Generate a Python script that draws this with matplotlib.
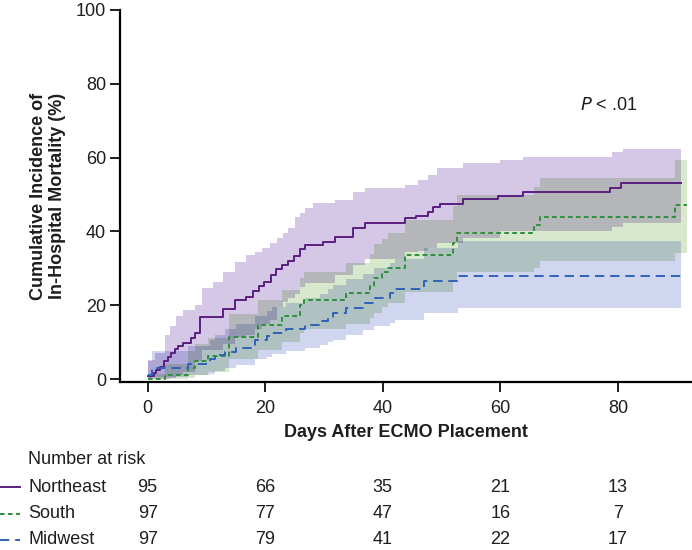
import numpy as np
import matplotlib
matplotlib.use("Agg")
import matplotlib.pyplot as plt
from matplotlib.transforms import blended_transform_factory

plt.rcParams["font.family"] = ["Liberation Sans", "DejaVu Sans"]

# Northeast: cumulative incidence steps (days, %) and confidence band
ne_t = [0, 1.0, 1.5, 2.1, 2.8, 3.5, 4.0, 4.7, 5.1, 6.0, 7.4, 8.0, 8.9, 12.9, 14.8, 16.8, 17.9, 18.9, 19.8, 21.0,
        21.9, 22.8, 23.9, 24.9, 25.9, 26.8, 29.9, 31.9, 35.0, 37.0, 43.8, 45.7, 47.7, 48.6, 49.7, 53.7, 59.6, 63.8, 78.6, 80.6]
ne_y = [0.7, 1.6, 2.4, 3.4, 4.8, 5.9, 7.1, 8.1, 8.9, 9.8, 11.0, 12.5, 16.8, 18.9, 21.3, 22.2, 23.8, 25.3, 26.4, 28.2,
        29.8, 30.8, 32.0, 33.4, 35.2, 36.3, 37.2, 38.4, 41.0, 42.2, 43.6, 44.2, 45.4, 46.6, 47.5, 48.7, 49.6, 50.6, 51.9, 53.0]
ne_bt = [0, 1.2, 2.9, 3.8, 4.9, 6.1, 8.0, 9.2, 11.2, 12.9, 14.8, 16.8, 18.2, 19.4, 20.8, 22.0, 23.1, 23.9, 25.1, 25.9,
         26.8, 28.2, 31.9, 35.0, 37.0, 43.8, 46.0, 47.7, 49.2, 53.7, 59.9, 63.9, 79.0, 80.9]
ne_hi = [5.2, 7.0, 11.9, 14.3, 17.0, 18.8, 20.1, 24.6, 26.4, 29.1, 31.8, 33.7, 34.5, 35.5, 36.8, 38.2, 39.5, 40.9, 44.0, 44.9,
         46.3, 47.6, 48.5, 50.8, 51.7, 52.6, 54.0, 55.3, 57.1, 58.5, 59.4, 60.3, 61.4, 62.3]
ne_lo = [0, 0, 0, 0.3, 1.0, 1.8, 4.9, 8.0, 8.0, 9.5, 11.5, 12.0, 13.5, 15.0, 16.0, 19.5, 21.0, 22.0, 23.0, 25.0,
         26.0, 26.0, 28.3, 31.0, 32.5, 34.5, 34.8, 35.5, 36.9, 38.2, 40.0, 40.0, 41.3, 42.2]
ne_end = 90.8

# South
so_t = [0, 2.9, 6.8, 8.0, 10.3, 13.9, 18.8, 22.9, 25.9, 26.6, 33.7, 37.8, 38.5, 39.8, 40.9, 43.8, 52.0, 52.7, 65.8, 66.7, 89.7]
so_y = [0.0, 1.0, 3.1, 5.0, 6.2, 11.4, 14.7, 17.0, 20.0, 21.5, 23.3, 25.1, 27.5, 29.0, 30.0, 33.5, 36.9, 39.6, 41.8, 43.8, 47.2]
so_lo = [0, 0, 0.3, 1.2, 2.0, 5.5, 8.0, 10.0, 12.5, 13.5, 15.0, 16.5, 18.0, 19.5, 20.5, 23.5, 26.5, 29.1, 30.0, 32.0, 34.1]
so_hi = [1.5, 4.0, 7.5, 9.5, 11.0, 17.5, 21.5, 24.0, 27.5, 29.0, 31.5, 34.0, 36.5, 38.0, 39.5, 43.0, 47.0, 50.0, 52.0, 54.4, 59.4]
so_end = 91.7

# Midwest
mw_t = [0, 0.7, 6.9, 10.6, 11.4, 13.1, 15.1, 18.2, 20.3, 21.1, 23.6, 26.8, 29.3, 30.7, 31.6, 33.8, 36.7, 38.5, 41.2, 42.1, 47.0, 52.8]
mw_y = [1.0, 3.1, 4.2, 5.3, 6.4, 7.4, 8.5, 10.5, 11.6, 12.6, 13.6, 14.6, 15.7, 16.8, 17.9, 19.2, 20.5, 22.0, 23.3, 24.4, 26.7, 27.8]
mw_hi = [5.0, 7.5, 9.0, 10.5, 12.0, 13.5, 15.0, 17.0, 18.5, 19.5, 20.5, 22.0, 23.0, 24.5, 25.5, 27.0, 28.5, 30.0, 31.5, 32.5, 35.5, 37.3]
mw_lo = [0, 0.5, 1.0, 1.5, 2.3, 3.0, 3.8, 5.3, 6.0, 6.8, 7.5, 8.3, 9.3, 10.0, 10.6, 12.0, 13.3, 14.3, 15.2, 16.1, 17.9, 19.2]
mw_end = 90.8

# number at risk table
risk_days = [0, 20, 40, 60, 80]
ne_risk = [95, 66, 35, 21, 13]
so_risk = [97, 77, 47, 16, 7]
mw_risk = [97, 79, 41, 22, 17]

regions = ["Northeast", "South", "Midwest"]
line_col = ["#5b1f80", "#2e8f3c", "#2f62b8"]
band_rgb = [np.array([213, 200, 230]) / 255, np.array([215, 232, 205]) / 255, np.array([208, 213, 240]) / 255]
styles = ["-", (0, (2.4, 1.7)), (0, (4.8, 3.0))]
FS = 13
TXT = "#1e1e1e"

fig = plt.figure(figsize=(6.92, 5.5), dpi=100)
ax = fig.add_axes([120 / 692, 1 - 382 / 550, 1 - 120 / 692, (382 - 10) / 550])

# bands on a shared step grid; overlaps coloured as multiplied tints
grid = np.unique(np.concatenate([ne_bt, so_t, mw_t, [ne_end, so_end, mw_end]]))

def on_grid(t, v, end):
    idx = np.clip(np.searchsorted(t, grid, side="right") - 1, 0, None)
    return np.asarray(v, float)[idx], grid < end

bands = []
for t, lo, hi, end in [(ne_bt, ne_lo, ne_hi, ne_end), (so_t, so_lo, so_hi, so_end), (mw_t, mw_lo, mw_hi, mw_end)]:
    l, ok = on_grid(t, lo, end)
    h, _ = on_grid(t, hi, end)
    h = np.where(ok, h, l)
    bands.append((l, h))

for combo in [(0,), (1,), (2,), (0, 1), (1, 2), (0, 2), (0, 1, 2)]:
    lo = np.max([bands[i][0] for i in combo], axis=0)
    hi = np.min([bands[i][1] for i in combo], axis=0)
    hi = np.maximum(hi, lo)
    col = np.prod([band_rgb[i] for i in combo], axis=0)
    ax.fill_between(grid, lo, hi, step="post", color=col, lw=0, zorder=1)

for t, y, end, c, ls in zip([ne_t, so_t, mw_t], [ne_y, so_y, mw_y], [ne_end, so_end, mw_end], line_col, styles):
    ax.step(list(t) + [end], list(y) + [y[-1]], where="post", color=c, lw=1.4, ls=ls, zorder=3)

ax.set_xlim(-4.7, 92.6)
ax.set_ylim(-0.8, 100)
ax.set_xticks(risk_days)
ax.set_yticks(range(0, 101, 20))
for s in ("top", "right"):
    ax.spines[s].set_visible(False)
for s in ("left", "bottom"):
    ax.spines[s].set_linewidth(1.6)
ax.tick_params(direction="out", length=7, width=1.4, labelsize=FS, colors=TXT)
ax.tick_params(axis="y", pad=3)
ax.tick_params(axis="x", pad=6)
ax.set_ylabel("Cumulative Incidence of\nIn-Hospital Mortality (%)", fontsize=FS, fontweight="bold", labelpad=7, color=TXT)
ax.set_xlabel("Days After ECMO Placement", fontsize=FS, fontweight="bold", labelpad=5, color=TXT)
ax.text(78.4, 74, "$P$ < .01", fontsize=FS, ha="center", va="center", color=TXT)

# number at risk
tr = blended_transform_factory(ax.transData, fig.transFigure)
fig.text(28 / 692, 1 - 460 / 550, "Number at risk", fontsize=FS, va="center", color=TXT)
for k, (name, risk) in enumerate(zip(regions, [ne_risk, so_risk, mw_risk])):
    yy = 1 - (487 + 26.5 * k) / 550
    fig.add_artist(plt.Line2D([0, 20 / 692], [yy, yy], color=line_col[k], lw=1.4, ls=styles[k]))
    fig.text(28 / 692, yy, name, fontsize=FS, va="center", color=TXT)
    for d, n in zip(risk_days, risk):
        ax.text(d, yy, str(n), transform=tr, fontsize=FS, ha="center", va="center", color=TXT)

fig.savefig("out.png", dpi=100)
